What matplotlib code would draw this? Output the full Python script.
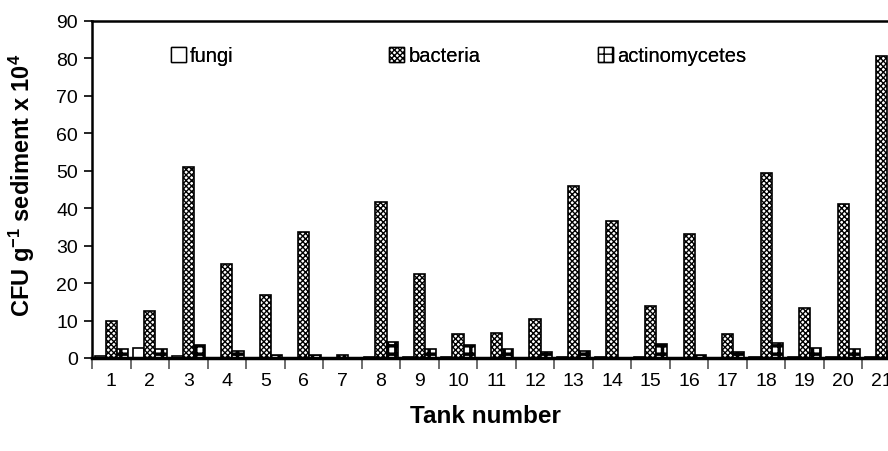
import matplotlib
matplotlib.use('Agg')
import matplotlib.pyplot as plt
import numpy as np
from matplotlib.patches import Patch

tanks = [str(i) for i in range(1, 22)]
fungi = [0.5, 2.8, 0.5, 0, 0, 0, 0, 0.3, 0.3, 0.3, 0, 0, 0.4, 0.3, 0.3, 0, 0, 0.3, 0.3, 0.3, 0.3]
bacteria = [9.9, 12.5, 51, 25, 16.8, 33.6, 0.9, 41.6, 22.4, 6.5, 6.8, 10.4, 46, 36.6, 13.9,
            33.1, 6.5, 49.4, 13.4, 41.1, 80.6]
actinomycetes = [2.4, 2.5, 3.5, 1.8, 0.9, 0.9, 0, 4.4, 2.4, 3.4, 2.4, 1.5, 1.8, 0, 3.8,
                 0.9, 1.5, 3.9, 2.7, 2.4, 2.0]

plt.rcParams['font.family'] = ['Liberation Sans', 'DejaVu Sans']
plt.rcParams['mathtext.default'] = 'regular'
plt.rcParams['hatch.linewidth'] = 1.0

fig = plt.figure(figsize=(8.88, 4.52), dpi=100)
ax = fig.add_axes([92 / 888, 1 - 359 / 452, (901 - 92) / 888, (359 - 22) / 452])

x = np.arange(1, len(tanks) + 1)
w = 0.29
ax.bar(x - w, fungi, w, facecolor='white', edgecolor='black', linewidth=1.2)
ax.bar(x, bacteria, w, facecolor='white', edgecolor='black', linewidth=1.2, hatch='xxxxxx')
act = ax.bar(x + w, actinomycetes, w, facecolor='white', edgecolor='black', linewidth=1.2, hatch='++')
for p in act:
    try:
        p.set_hatch_linewidth(2.5)
    except AttributeError:
        pass

ax.set_xlim(0.5, len(tanks) + 0.5)
ax.set_ylim(0, 90)
ax.set_yticks(range(0, 91, 10))
ax.tick_params(axis='y', labelsize=14, direction='out', length=6, width=1.2, pad=4)

ax.set_xticks(np.arange(0.5, len(tanks) + 1, 1))
ax.set_xticklabels([])
ax.set_xticks(x, minor=True)
ax.set_xticklabels(tanks, minor=True, fontsize=14)
ax.tick_params(axis='x', which='major', direction='out', length=8, width=1.2, color='#555555')
ax.tick_params(axis='x', which='minor', length=0, pad=10)

ax.spines['bottom'].set_linewidth(2.5)
ax.spines['left'].set_linewidth(1.8)
ax.spines['top'].set_linewidth(1.8)
ax.spines['right'].set_visible(False)

ax.set_ylabel(r'CFU g$^{-1}$ sediment x 10$^{4}$', fontsize=17, fontweight='bold')
ax.yaxis.set_label_coords((37 - 92) / 809, (359 - 185) / 337)
ax.set_xlabel('Tank number', fontsize=17.5, fontweight='bold')
ax.xaxis.set_label_coords((485 - 92) / 809, -(405 - 359) / 337)

handles = [Patch(facecolor='white', edgecolor='black', label='fungi'),
           Patch(facecolor='white', edgecolor='black', hatch='xxxxxx', label='bacteria'),
           Patch(facecolor='white', edgecolor='black', hatch='++', label='actinomycetes')]
anchors = [163 / 888, 381 / 888, 590 / 888]
for h, a in zip(handles, anchors):
    leg = fig.legend(handles=[h], loc='center left', bbox_to_anchor=(a, 1 - 57 / 452),
                     frameon=False, fontsize=14.5, handlelength=0.75, handleheight=0.75,
                     handletextpad=0.2, borderaxespad=0)
    fig.add_artist(leg)

fig.savefig('out.png', dpi=100)
